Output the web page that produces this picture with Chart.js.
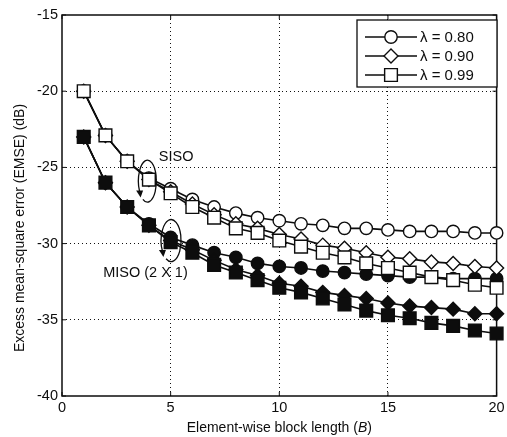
<!DOCTYPE html>
<html>
<head>
<meta charset="utf-8">
<script src="https://cdn.jsdelivr.net/npm/chart.js@4.4.1/dist/chart.umd.min.js"></script>
<style>
  html, body { margin: 0; padding: 0; background: #fff; }
  #wrap { width: 507px; height: 437px; }
</style>
</head>
<body>
<div id="wrap"><canvas id="c" width="507" height="437"></canvas></div>
<script>
// Block length B on the horizontal axis
const blockLength = [1, 2, 3, 4, 5, 6, 7, 8, 9, 10, 11, 12, 13, 14, 15, 16, 17, 18, 19, 20];

// EMSE (dB), single-antenna system
const siso080 = [-20, -22.9, -24.6, -25.7, -26.4, -27.1, -27.6, -28.0, -28.3, -28.5, -28.7, -28.8, -29.0, -29.0, -29.1, -29.2, -29.2, -29.2, -29.3, -29.3];
const siso090 = [-20, -22.9, -24.6, -25.8, -26.6, -27.4, -28.1, -28.7, -29.0, -29.4, -29.7, -30.1, -30.3, -30.6, -30.9, -31.0, -31.2, -31.3, -31.5, -31.6];
const siso099 = [-20, -22.9, -24.6, -25.8, -26.7, -27.6, -28.3, -29.0, -29.3, -29.8, -30.2, -30.6, -30.9, -31.3, -31.6, -31.9, -32.2, -32.4, -32.7, -32.9];

// EMSE (dB), 2 x 1 system
const miso080 = [-23, -26.0, -27.6, -28.7, -29.6, -30.1, -30.6, -30.9, -31.3, -31.5, -31.6, -31.8, -31.9, -32.0, -32.1, -32.2, -32.2, -32.3, -32.3, -32.3];
const miso090 = [-23, -26.0, -27.6, -28.8, -29.8, -30.4, -31.1, -31.7, -32.1, -32.6, -32.8, -33.2, -33.4, -33.6, -33.9, -34.1, -34.2, -34.3, -34.6, -34.6];
const miso099 = [-23, -26.0, -27.6, -28.8, -29.9, -30.6, -31.4, -31.9, -32.4, -32.9, -33.2, -33.6, -34.0, -34.4, -34.7, -34.9, -35.2, -35.4, -35.7, -35.9];

// Axis ranges and ticks
const xTicks = [0, 5, 10, 15, 20];
const yTicks = [-40, -35, -30, -25, -20, -15];

const lambdaLabels = ['\u03bb = 0.80', '\u03bb = 0.90', '\u03bb = 0.99'];

const FONT = '"Liberation Sans", Arial, Helvetica, sans-serif';
const INK = '#0d0d0d';

const markerFor = {
  '0.80': { pointStyle: 'circle', radius: 6.2 },
  '0.90': { pointStyle: 'rectRot', radius: 7 },
  '0.99': { pointStyle: 'rect', radius: 9 }
};

function toPoints(values) {
  return blockLength.map((b, i) => ({ x: b, y: values[i] }));
}

function series(values, key, filled, order) {
  const m = markerFor[key];
  return {
    data: toPoints(values),
    borderColor: INK,
    borderWidth: 1.6,
    backgroundColor: filled ? INK : '#fff',
    pointBackgroundColor: filled ? INK : '#fff',
    pointBorderColor: INK,
    pointBorderWidth: 1.4,
    pointStyle: m.pointStyle,
    pointRadius: m.radius,
    pointHoverRadius: m.radius,
    tension: 0,
    fill: false,
    clip: false,
    order: order
  };
}

const datasets = [
  series(siso099, '0.99', false, 0),
  series(siso090, '0.90', false, 1),
  series(siso080, '0.80', false, 2),
  series(miso099, '0.99', true, 3),
  series(miso090, '0.90', true, 4),
  series(miso080, '0.80', true, 5)
];

// Frame, inward ticks, legend, annotations and axis titles
const decorations = {
  id: 'decorations',
  beforeDatasetsDraw(chart) {
    const { ctx, chartArea: a, scales: { x, y } } = chart;
    ctx.save();
    ctx.strokeStyle = INK;
    ctx.lineWidth = 1.5;
    ctx.strokeRect(a.left, a.top, a.right - a.left, a.bottom - a.top);
    ctx.lineWidth = 1;
    const tl = 4;
    ctx.beginPath();
    xTicks.forEach(v => {
      const px = x.getPixelForValue(v);
      ctx.moveTo(px, a.bottom); ctx.lineTo(px, a.bottom - tl);
      ctx.moveTo(px, a.top); ctx.lineTo(px, a.top + tl);
    });
    yTicks.forEach(v => {
      const py = y.getPixelForValue(v);
      ctx.moveTo(a.left, py); ctx.lineTo(a.left + tl, py);
      ctx.moveTo(a.right, py); ctx.lineTo(a.right - tl, py);
    });
    ctx.stroke();

    // curved arrows marking the two groups of curves
    drawLoop(ctx, x.getPixelForValue(3.93), y.getPixelForValue(-25.9), 9, 21);
    drawLoop(ctx, x.getPixelForValue(5.02), y.getPixelForValue(-29.8), 10, 21);

    ctx.fillStyle = INK;
    ctx.font = '14.5px ' + FONT;
    ctx.textAlign = 'center';
    ctx.textBaseline = 'middle';
    ctx.fillText('SISO', x.getPixelForValue(5.25), y.getPixelForValue(-24.3));
    ctx.fillText('MISO (2 X 1)', x.getPixelForValue(3.84), y.getPixelForValue(-31.9));
    ctx.restore();
  },
  afterDraw(chart) {
    const { ctx, chartArea: a } = chart;
    ctx.save();
    // legend box
    const lx = 357, ly = 20, lw = 140, lh = 67;
    ctx.fillStyle = '#fff';
    ctx.fillRect(lx, ly, lw, lh);
    ctx.strokeStyle = INK;
    ctx.lineWidth = 1.3;
    ctx.strokeRect(lx, ly, lw, lh);
    const rows = [37, 56, 75];
    const keys = ['0.80', '0.90', '0.99'];
    rows.forEach((ry, i) => {
      ctx.beginPath();
      ctx.lineWidth = 1.3;
      ctx.moveTo(365, ry); ctx.lineTo(417, ry);
      ctx.stroke();
      const m = markerFor[keys[i]];
      ctx.fillStyle = '#fff';
      ctx.strokeStyle = INK;
      ctx.lineWidth = 1.4;
      Chart.helpers.drawPoint(ctx, { pointStyle: m.pointStyle, radius: m.radius, rotation: 0, borderWidth: 1.4 }, 391, ry);
      ctx.fillStyle = INK;
      ctx.font = '15px ' + FONT;
      ctx.textAlign = 'left';
      ctx.textBaseline = 'middle';
      ctx.fillText(lambdaLabels[i], 420, ry + 1);
    });

    // axis titles
    ctx.fillStyle = INK;
    ctx.textBaseline = 'middle';
    const main = 'Element-wise block length (';
    const ital = 'B';
    const close = ')';
    ctx.font = '14px ' + FONT;
    const w1 = ctx.measureText(main).width;
    const w3 = ctx.measureText(close).width;
    ctx.font = 'italic 14px ' + FONT;
    const w2 = ctx.measureText(ital).width;
    const tx = (a.left + a.right) / 2 - (w1 + w2 + w3) / 2;
    const ty = 428;
    ctx.textAlign = 'left';
    ctx.font = '14px ' + FONT;
    ctx.fillText(main, tx, ty);
    ctx.font = 'italic 14px ' + FONT;
    ctx.fillText(ital, tx + w1, ty);
    ctx.font = '14px ' + FONT;
    ctx.fillText(close, tx + w1 + w2, ty);

    ctx.translate(20, 228);
    ctx.rotate(-Math.PI / 2);
    ctx.textAlign = 'center';
    ctx.fillText('Excess mean-square error (EMSE) (dB)', 0, 0);
    ctx.restore();
  }
};

function drawLoop(ctx, cx, cy, rx, ry) {
  const start = 120 * Math.PI / 180;
  const end = 150 * Math.PI / 180;
  ctx.save();
  ctx.strokeStyle = INK;
  ctx.lineWidth = 1.3;
  ctx.beginPath();
  ctx.ellipse(cx, cy, rx, ry, 0, start, end, true);
  ctx.stroke();
  // arrow head at the end of the loop, heading down
  const ex = cx + rx * Math.cos(end);
  const ey = cy + ry * Math.sin(end);
  ctx.fillStyle = INK;
  ctx.beginPath();
  ctx.moveTo(ex + 1, ey + 6);
  ctx.lineTo(ex - 3.5, ey - 1);
  ctx.lineTo(ex + 3.5, ey - 1);
  ctx.closePath();
  ctx.fill();
  ctx.restore();
}

const edgeTransparent = (minV, maxV) => (c) => {
  const v = c.tick ? c.tick.value : null;
  return (v === minV || v === maxV) ? 'rgba(0,0,0,0)' : '#111';
};

new Chart(document.getElementById('c'), {
  type: 'line',
  data: { datasets },
  plugins: [decorations],
  options: {
    responsive: false,
    animation: false,
    devicePixelRatio: 1,
    layout: { padding: { top: 15, right: 7, left: 0, bottom: 0 } },
    plugins: { legend: { display: false }, tooltip: { enabled: false } },
    scales: {
      x: {
        type: 'linear',
        min: 0, max: 20,
        afterBuildTicks(s) { s.ticks = xTicks.map(v => ({ value: v })); },
        afterFit(s) { s.height = 41; s.paddingLeft = 0; s.paddingRight = 0; },
        ticks: { color: INK, font: { family: FONT, size: 14.5 }, padding: 3, maxRotation: 0, autoSkip: false },
        grid: { drawTicks: false, color: edgeTransparent(0, 20), lineWidth: 1 },
        border: { display: false, dash: [1, 3] }
      },
      y: {
        type: 'linear',
        min: -40, max: -15,
        afterBuildTicks(s) { s.ticks = yTicks.map(v => ({ value: v })); },
        afterFit(s) { s.width = 62; s.paddingTop = 0; s.paddingBottom = 0; },
        ticks: { color: INK, font: { family: FONT, size: 14.5 }, padding: 4, autoSkip: false },
        grid: { drawTicks: false, color: edgeTransparent(-40, -15), lineWidth: 1 },
        border: { display: false, dash: [1, 3] }
      }
    }
  }
});
</script>
</body>
</html>
